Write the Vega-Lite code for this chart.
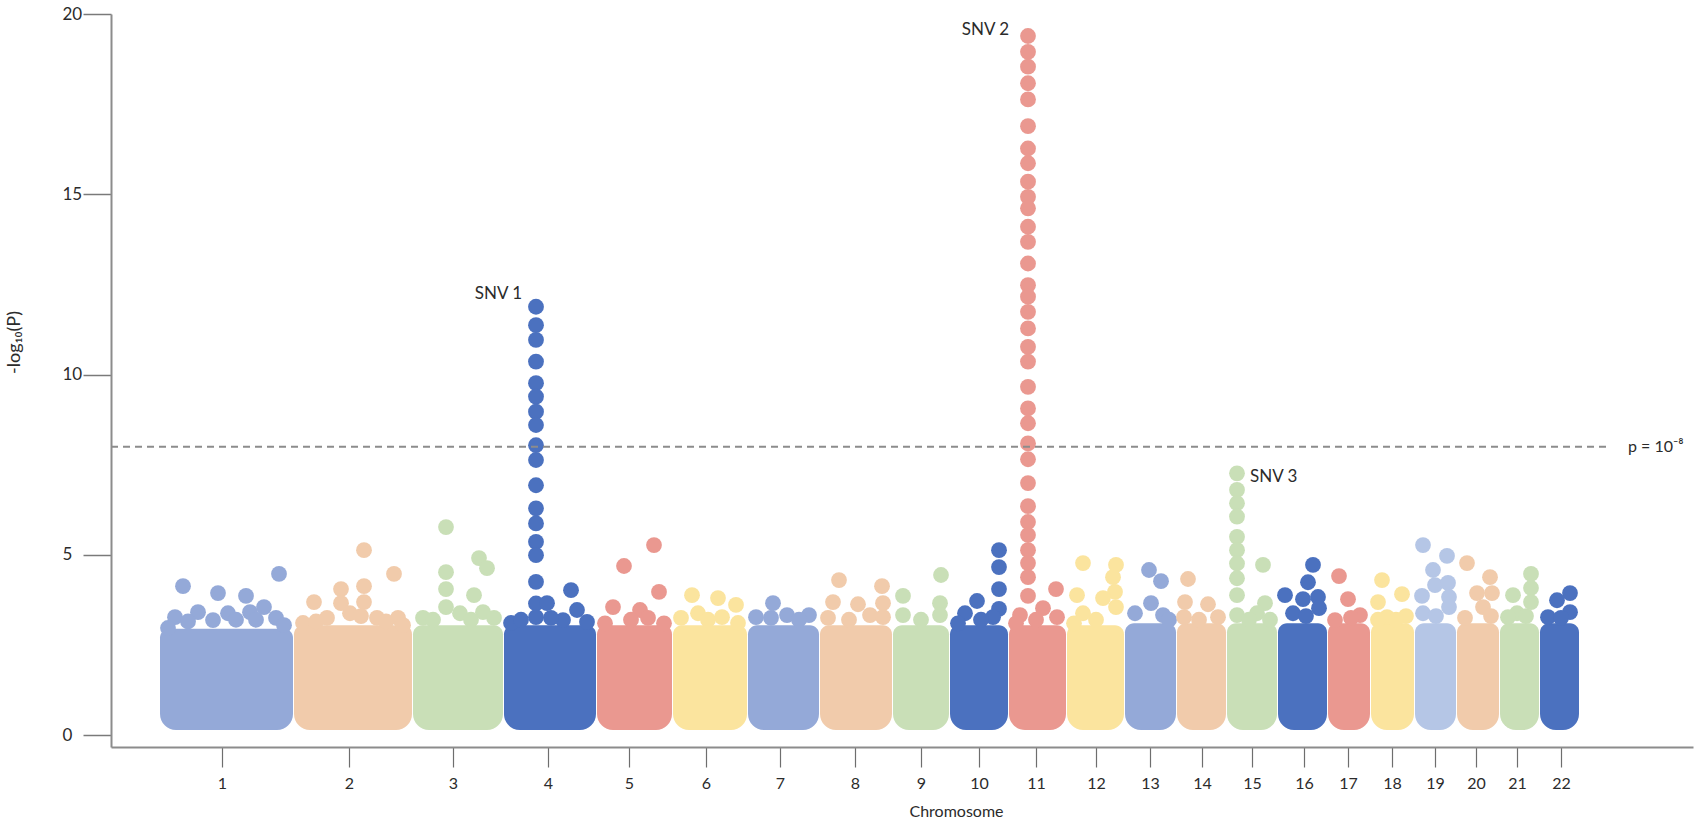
{
  "$schema": "https://vega.github.io/schema/vega-lite/v6.json",
  "description": "Manhattan plot, -log10(P) by chromosome",
  "autosize": "none",
  "width": 1582,
  "height": 733,
  "padding": {"left": 111, "top": 14, "right": 5, "bottom": 73},
  "background": "white",
  "config": {
    "view": {"stroke": null},
    "font": "Lato",
    "axis": {"grid": false, "labelFont": "Lato", "titleFont": "Lato"}
  },
  "datasets": {
    "blocks": [
      {"chr": 1, "start": 49, "end": 182, "low": 0.14, "top": 2.95},
      {"chr": 2, "start": 183, "end": 301, "low": 0.14, "top": 3.05},
      {"chr": 3, "start": 302, "end": 392, "low": 0.14, "top": 3.05},
      {"chr": 4, "start": 393, "end": 485, "low": 0.14, "top": 3.05},
      {"chr": 5, "start": 486, "end": 561, "low": 0.14, "top": 3.05},
      {"chr": 6, "start": 562, "end": 636, "low": 0.14, "top": 3.05},
      {"chr": 7, "start": 637, "end": 708, "low": 0.14, "top": 3.05},
      {"chr": 8, "start": 709, "end": 781, "low": 0.14, "top": 3.05},
      {"chr": 9, "start": 782, "end": 838, "low": 0.14, "top": 3.05},
      {"chr": 10, "start": 839, "end": 897, "low": 0.14, "top": 3.05},
      {"chr": 11, "start": 898, "end": 955, "low": 0.14, "top": 3.05},
      {"chr": 12, "start": 956, "end": 1013, "low": 0.14, "top": 3.05},
      {"chr": 13, "start": 1014, "end": 1065, "low": 0.14, "top": 3.1},
      {"chr": 14, "start": 1066, "end": 1115, "low": 0.14, "top": 3.1},
      {"chr": 15, "start": 1116, "end": 1166, "low": 0.14, "top": 3.1},
      {"chr": 16, "start": 1167, "end": 1216, "low": 0.14, "top": 3.1},
      {"chr": 17, "start": 1217, "end": 1259, "low": 0.14, "top": 3.1},
      {"chr": 18, "start": 1260, "end": 1303, "low": 0.14, "top": 3.1},
      {"chr": 19, "start": 1304, "end": 1345, "low": 0.14, "top": 3.1},
      {"chr": 20, "start": 1346, "end": 1388, "low": 0.14, "top": 3.1},
      {"chr": 21, "start": 1389, "end": 1428, "low": 0.14, "top": 3.1},
      {"chr": 22, "start": 1429, "end": 1468, "low": 0.14, "top": 3.1}
    ],
    "points": [
      {"chr": 1, "pos": 72, "logp": 4.13}, {"chr": 1, "pos": 107, "logp": 3.94},
      {"chr": 1, "pos": 135, "logp": 3.86}, {"chr": 1, "pos": 168, "logp": 4.47},
      {"chr": 1, "pos": 64, "logp": 3.27}, {"chr": 1, "pos": 87, "logp": 3.41},
      {"chr": 1, "pos": 117, "logp": 3.38}, {"chr": 1, "pos": 139, "logp": 3.41},
      {"chr": 1, "pos": 153, "logp": 3.55}, {"chr": 1, "pos": 165, "logp": 3.25},
      {"chr": 1, "pos": 102, "logp": 3.19}, {"chr": 1, "pos": 57, "logp": 2.97},
      {"chr": 1, "pos": 77, "logp": 3.15}, {"chr": 1, "pos": 125, "logp": 3.2},
      {"chr": 1, "pos": 145, "logp": 3.2}, {"chr": 1, "pos": 173, "logp": 3.05},

      {"chr": 2, "pos": 253, "logp": 5.13}, {"chr": 2, "pos": 283, "logp": 4.47},
      {"chr": 2, "pos": 253, "logp": 4.13}, {"chr": 2, "pos": 253, "logp": 3.69},
      {"chr": 2, "pos": 230, "logp": 4.05}, {"chr": 2, "pos": 230, "logp": 3.66},
      {"chr": 2, "pos": 203, "logp": 3.69}, {"chr": 2, "pos": 192, "logp": 3.11},
      {"chr": 2, "pos": 216, "logp": 3.25}, {"chr": 2, "pos": 239, "logp": 3.38},
      {"chr": 2, "pos": 266, "logp": 3.25}, {"chr": 2, "pos": 287, "logp": 3.25},
      {"chr": 2, "pos": 250, "logp": 3.3}, {"chr": 2, "pos": 292, "logp": 3.05},
      {"chr": 2, "pos": 205, "logp": 3.15}, {"chr": 2, "pos": 275, "logp": 3.15},

      {"chr": 3, "pos": 335, "logp": 5.77}, {"chr": 3, "pos": 368, "logp": 4.91},
      {"chr": 3, "pos": 376, "logp": 4.63}, {"chr": 3, "pos": 335, "logp": 4.52},
      {"chr": 3, "pos": 335, "logp": 4.05}, {"chr": 3, "pos": 363, "logp": 3.88},
      {"chr": 3, "pos": 335, "logp": 3.55}, {"chr": 3, "pos": 312, "logp": 3.25},
      {"chr": 3, "pos": 349, "logp": 3.38}, {"chr": 3, "pos": 372, "logp": 3.41},
      {"chr": 3, "pos": 383, "logp": 3.25}, {"chr": 3, "pos": 322, "logp": 3.2},
      {"chr": 3, "pos": 360, "logp": 3.2},

      {"chr": 4, "pos": 425, "logp": 11.88}, {"chr": 4, "pos": 425, "logp": 11.37},
      {"chr": 4, "pos": 425, "logp": 10.96}, {"chr": 4, "pos": 425, "logp": 10.36},
      {"chr": 4, "pos": 425, "logp": 9.76}, {"chr": 4, "pos": 425, "logp": 9.39},
      {"chr": 4, "pos": 425, "logp": 8.97}, {"chr": 4, "pos": 425, "logp": 8.6},
      {"chr": 4, "pos": 425, "logp": 8.04}, {"chr": 4, "pos": 425, "logp": 7.63},
      {"chr": 4, "pos": 425, "logp": 6.93}, {"chr": 4, "pos": 425, "logp": 6.29},
      {"chr": 4, "pos": 425, "logp": 5.87}, {"chr": 4, "pos": 425, "logp": 5.36},
      {"chr": 4, "pos": 425, "logp": 4.99}, {"chr": 4, "pos": 425, "logp": 4.25},
      {"chr": 4, "pos": 425, "logp": 3.65}, {"chr": 4, "pos": 436, "logp": 3.66},
      {"chr": 4, "pos": 460, "logp": 4.02}, {"chr": 4, "pos": 466, "logp": 3.47},
      {"chr": 4, "pos": 400, "logp": 3.11}, {"chr": 4, "pos": 452, "logp": 3.19},
      {"chr": 4, "pos": 425, "logp": 3.27}, {"chr": 4, "pos": 476, "logp": 3.14},
      {"chr": 4, "pos": 410, "logp": 3.2}, {"chr": 4, "pos": 440, "logp": 3.25},

      {"chr": 5, "pos": 513, "logp": 4.69}, {"chr": 5, "pos": 543, "logp": 5.27},
      {"chr": 5, "pos": 548, "logp": 3.97}, {"chr": 5, "pos": 502, "logp": 3.55},
      {"chr": 5, "pos": 529, "logp": 3.47}, {"chr": 5, "pos": 494, "logp": 3.1},
      {"chr": 5, "pos": 520, "logp": 3.2}, {"chr": 5, "pos": 553, "logp": 3.1},
      {"chr": 5, "pos": 537, "logp": 3.25},

      {"chr": 6, "pos": 581, "logp": 3.88}, {"chr": 6, "pos": 607, "logp": 3.8},
      {"chr": 6, "pos": 625, "logp": 3.61}, {"chr": 6, "pos": 587, "logp": 3.38},
      {"chr": 6, "pos": 611, "logp": 3.27}, {"chr": 6, "pos": 570, "logp": 3.25},
      {"chr": 6, "pos": 627, "logp": 3.11}, {"chr": 6, "pos": 597, "logp": 3.2},

      {"chr": 7, "pos": 662, "logp": 3.66}, {"chr": 7, "pos": 645, "logp": 3.27},
      {"chr": 7, "pos": 676, "logp": 3.33}, {"chr": 7, "pos": 698, "logp": 3.33},
      {"chr": 7, "pos": 660, "logp": 3.25}, {"chr": 7, "pos": 688, "logp": 3.2},

      {"chr": 8, "pos": 728, "logp": 4.3}, {"chr": 8, "pos": 771, "logp": 4.13},
      {"chr": 8, "pos": 722, "logp": 3.69}, {"chr": 8, "pos": 747, "logp": 3.63},
      {"chr": 8, "pos": 772, "logp": 3.66}, {"chr": 8, "pos": 717, "logp": 3.25},
      {"chr": 8, "pos": 759, "logp": 3.33}, {"chr": 8, "pos": 772, "logp": 3.27},
      {"chr": 8, "pos": 738, "logp": 3.2},

      {"chr": 9, "pos": 830, "logp": 4.44}, {"chr": 9, "pos": 792, "logp": 3.86},
      {"chr": 9, "pos": 829, "logp": 3.66}, {"chr": 9, "pos": 792, "logp": 3.33},
      {"chr": 9, "pos": 829, "logp": 3.33}, {"chr": 9, "pos": 810, "logp": 3.2},

      {"chr": 10, "pos": 888, "logp": 5.13}, {"chr": 10, "pos": 888, "logp": 4.66},
      {"chr": 10, "pos": 888, "logp": 4.05}, {"chr": 10, "pos": 866, "logp": 3.72},
      {"chr": 10, "pos": 888, "logp": 3.5}, {"chr": 10, "pos": 854, "logp": 3.38},
      {"chr": 10, "pos": 882, "logp": 3.27}, {"chr": 10, "pos": 847, "logp": 3.1},
      {"chr": 10, "pos": 870, "logp": 3.2},

      {"chr": 11, "pos": 917, "logp": 19.39}, {"chr": 11, "pos": 917, "logp": 18.95},
      {"chr": 11, "pos": 917, "logp": 18.54}, {"chr": 11, "pos": 917, "logp": 18.08},
      {"chr": 11, "pos": 917, "logp": 17.63}, {"chr": 11, "pos": 917, "logp": 16.89},
      {"chr": 11, "pos": 917, "logp": 16.27}, {"chr": 11, "pos": 917, "logp": 15.86},
      {"chr": 11, "pos": 917, "logp": 15.35}, {"chr": 11, "pos": 917, "logp": 14.93},
      {"chr": 11, "pos": 917, "logp": 14.61}, {"chr": 11, "pos": 917, "logp": 14.1},
      {"chr": 11, "pos": 917, "logp": 13.68}, {"chr": 11, "pos": 917, "logp": 13.08},
      {"chr": 11, "pos": 917, "logp": 12.48}, {"chr": 11, "pos": 917, "logp": 12.16},
      {"chr": 11, "pos": 917, "logp": 11.74}, {"chr": 11, "pos": 917, "logp": 11.28},
      {"chr": 11, "pos": 917, "logp": 10.77}, {"chr": 11, "pos": 917, "logp": 10.36},
      {"chr": 11, "pos": 917, "logp": 9.66}, {"chr": 11, "pos": 917, "logp": 9.06},
      {"chr": 11, "pos": 917, "logp": 8.65}, {"chr": 11, "pos": 917, "logp": 8.09},
      {"chr": 11, "pos": 917, "logp": 7.65}, {"chr": 11, "pos": 917, "logp": 6.99},
      {"chr": 11, "pos": 917, "logp": 6.35}, {"chr": 11, "pos": 917, "logp": 5.91},
      {"chr": 11, "pos": 917, "logp": 5.55}, {"chr": 11, "pos": 917, "logp": 5.13},
      {"chr": 11, "pos": 917, "logp": 4.77}, {"chr": 11, "pos": 917, "logp": 4.38},
      {"chr": 11, "pos": 917, "logp": 3.86}, {"chr": 11, "pos": 945, "logp": 4.05},
      {"chr": 11, "pos": 932, "logp": 3.52}, {"chr": 11, "pos": 909, "logp": 3.33},
      {"chr": 11, "pos": 946, "logp": 3.27}, {"chr": 11, "pos": 925, "logp": 3.2},
      {"chr": 11, "pos": 905, "logp": 3.1},

      {"chr": 12, "pos": 972, "logp": 4.77}, {"chr": 12, "pos": 1005, "logp": 4.72},
      {"chr": 12, "pos": 1002, "logp": 4.38}, {"chr": 12, "pos": 966, "logp": 3.88},
      {"chr": 12, "pos": 1004, "logp": 3.97}, {"chr": 12, "pos": 992, "logp": 3.8},
      {"chr": 12, "pos": 1005, "logp": 3.55}, {"chr": 12, "pos": 972, "logp": 3.38},
      {"chr": 12, "pos": 985, "logp": 3.2}, {"chr": 12, "pos": 963, "logp": 3.1},

      {"chr": 13, "pos": 1038, "logp": 4.58}, {"chr": 13, "pos": 1050, "logp": 4.27},
      {"chr": 13, "pos": 1040, "logp": 3.66}, {"chr": 13, "pos": 1052, "logp": 3.33},
      {"chr": 13, "pos": 1024, "logp": 3.38}, {"chr": 13, "pos": 1058, "logp": 3.2},

      {"chr": 14, "pos": 1077, "logp": 4.33}, {"chr": 14, "pos": 1074, "logp": 3.69},
      {"chr": 14, "pos": 1097, "logp": 3.63}, {"chr": 14, "pos": 1107, "logp": 3.27},
      {"chr": 14, "pos": 1073, "logp": 3.27}, {"chr": 14, "pos": 1088, "logp": 3.2},

      {"chr": 15, "pos": 1126, "logp": 7.26}, {"chr": 15, "pos": 1126, "logp": 6.8},
      {"chr": 15, "pos": 1126, "logp": 6.43}, {"chr": 15, "pos": 1126, "logp": 6.06},
      {"chr": 15, "pos": 1126, "logp": 5.5}, {"chr": 15, "pos": 1126, "logp": 5.13},
      {"chr": 15, "pos": 1126, "logp": 4.76}, {"chr": 15, "pos": 1126, "logp": 4.35},
      {"chr": 15, "pos": 1126, "logp": 3.88}, {"chr": 15, "pos": 1126, "logp": 3.33},
      {"chr": 15, "pos": 1152, "logp": 4.72}, {"chr": 15, "pos": 1154, "logp": 3.66},
      {"chr": 15, "pos": 1146, "logp": 3.38}, {"chr": 15, "pos": 1138, "logp": 3.2},
      {"chr": 15, "pos": 1159, "logp": 3.2},

      {"chr": 16, "pos": 1202, "logp": 4.72}, {"chr": 16, "pos": 1197, "logp": 4.24},
      {"chr": 16, "pos": 1174, "logp": 3.88}, {"chr": 16, "pos": 1192, "logp": 3.77},
      {"chr": 16, "pos": 1207, "logp": 3.83}, {"chr": 16, "pos": 1182, "logp": 3.38},
      {"chr": 16, "pos": 1208, "logp": 3.52}, {"chr": 16, "pos": 1195, "logp": 3.3},

      {"chr": 17, "pos": 1228, "logp": 4.41}, {"chr": 17, "pos": 1237, "logp": 3.77},
      {"chr": 17, "pos": 1249, "logp": 3.33}, {"chr": 17, "pos": 1224, "logp": 3.19},
      {"chr": 17, "pos": 1240, "logp": 3.25},

      {"chr": 18, "pos": 1271, "logp": 4.3}, {"chr": 18, "pos": 1291, "logp": 3.91},
      {"chr": 18, "pos": 1267, "logp": 3.69}, {"chr": 18, "pos": 1295, "logp": 3.3},
      {"chr": 18, "pos": 1276, "logp": 3.27}, {"chr": 18, "pos": 1267, "logp": 3.2},
      {"chr": 18, "pos": 1285, "logp": 3.2},

      {"chr": 19, "pos": 1312, "logp": 5.27}, {"chr": 19, "pos": 1336, "logp": 4.97},
      {"chr": 19, "pos": 1322, "logp": 4.58}, {"chr": 19, "pos": 1324, "logp": 4.16},
      {"chr": 19, "pos": 1337, "logp": 4.22}, {"chr": 19, "pos": 1311, "logp": 3.86},
      {"chr": 19, "pos": 1338, "logp": 3.83}, {"chr": 19, "pos": 1338, "logp": 3.55},
      {"chr": 19, "pos": 1312, "logp": 3.38}, {"chr": 19, "pos": 1325, "logp": 3.3},

      {"chr": 20, "pos": 1356, "logp": 4.77}, {"chr": 20, "pos": 1379, "logp": 4.38},
      {"chr": 20, "pos": 1366, "logp": 3.94}, {"chr": 20, "pos": 1381, "logp": 3.94},
      {"chr": 20, "pos": 1372, "logp": 3.55}, {"chr": 20, "pos": 1354, "logp": 3.25},
      {"chr": 20, "pos": 1380, "logp": 3.3},

      {"chr": 21, "pos": 1420, "logp": 4.47}, {"chr": 21, "pos": 1420, "logp": 4.08},
      {"chr": 21, "pos": 1402, "logp": 3.88}, {"chr": 21, "pos": 1420, "logp": 3.69},
      {"chr": 21, "pos": 1406, "logp": 3.38}, {"chr": 21, "pos": 1397, "logp": 3.27},
      {"chr": 21, "pos": 1415, "logp": 3.3},

      {"chr": 22, "pos": 1459, "logp": 3.94}, {"chr": 22, "pos": 1446, "logp": 3.74},
      {"chr": 22, "pos": 1459, "logp": 3.41}, {"chr": 22, "pos": 1437, "logp": 3.27},
      {"chr": 22, "pos": 1450, "logp": 3.25}
    ],
    "threshold": [
      {"logp": 8, "from": 0, "to": 1500, "label": "p = 10⁻⁸"}
    ],
    "peaks": [
      {"label": "SNV 1", "pos": 411, "logp": 12.23},
      {"label": "SNV 2", "pos": 898, "logp": 19.56}
    ],
    "peaksRight": [
      {"label": "SNV 3", "pos": 1139, "logp": 7.16}
    ]
  },
  "encoding": {
    "x": {
      "type": "quantitative",
      "scale": {"domain": [0, 1582], "nice": false, "zero": false},
      "axis": {
        "values": [111, 238, 342, 437, 518, 595, 669, 744, 810, 868, 925, 985, 1039, 1091, 1141, 1193, 1237, 1281, 1324, 1365, 1406, 1450],
        "labelExpr": "indexof([111, 238, 342, 437, 518, 595, 669, 744, 810, 868, 925, 985, 1039, 1091, 1141, 1193, 1237, 1281, 1324, 1365, 1406, 1450], datum.value) + 1",
        "domainColor": "#8c8c8c",
        "domainWidth": 2,
        "tickColor": "#6e6e6e",
        "tickWidth": 1.2,
        "tickSize": 20,
        "labelPadding": 8,
        "labelFontSize": 16,
        "labelColor": "#2b2b2b",
        "title": "Chromosome",
        "titleFontSize": 16,
        "titleFontWeight": "normal",
        "titleColor": "#2b2b2b",
        "titleX": 845,
        "titleY": 69,
        "titleBaseline": "alphabetic"
      }
    },
    "y": {
      "type": "quantitative",
      "scale": {"domain": [-0.33, 20], "nice": false, "zero": false},
      "axis": {
        "values": [0, 5, 10, 15, 20],
        "domainColor": "#8c8c8c",
        "domainWidth": 2,
        "tickColor": "#7a7a7a",
        "tickWidth": 1.5,
        "tickSize": 28,
        "labelAlign": "left",
        "labelPadding": 21,
        "labelFontSize": 17,
        "labelColor": "#2b2b2b",
        "title": "-log₁₀(P)",
        "titleFontSize": 18,
        "titleFontWeight": "normal",
        "titleColor": "#2b2b2b",
        "titleX": -97,
        "titleY": 328,
        "titleBaseline": "middle"
      }
    }
  },
  "layer": [
    {
      "data": {"name": "blocks"},
      "mark": {
        "type": "rect",
        "cornerRadiusTopLeft": 9,
        "cornerRadiusTopRight": 9,
        "cornerRadiusBottomLeft": 16,
        "cornerRadiusBottomRight": 16
      },
      "encoding": {
        "x": {"field": "start", "type": "quantitative"},
        "x2": {"field": "end"},
        "y": {"field": "low", "type": "quantitative"},
        "y2": {"field": "top"},
        "color": {
          "field": "chr",
          "type": "ordinal",
          "legend": null,
          "scale": {
            "domain": [1, 2, 3, 4, 5, 6, 7, 8, 9, 10, 11, 12, 13, 14, 15, 16, 17, 18, 19, 20, 21, 22],
            "range": ["#94a9d8", "#f1cbab", "#c9dfb7", "#4b71bf", "#ea9890", "#fbe49e", "#94a9d8", "#f1cbab", "#c9dfb7", "#4b71bf", "#ea9890", "#fbe49e", "#94a9d8", "#f1cbab", "#c9dfb7", "#4b71bf", "#ea9890", "#fbe49e", "#b5c6e6", "#f1cbab", "#c9dfb7", "#4b71bf"]
          }
        }
      }
    },
    {
      "data": {"name": "points"},
      "mark": {"type": "circle", "size": 250, "opacity": 1},
      "encoding": {
        "x": {"field": "pos", "type": "quantitative"},
        "y": {"field": "logp", "type": "quantitative"},
        "color": {"field": "chr", "type": "ordinal", "legend": null}
      }
    },
    {
      "data": {"name": "threshold"},
      "mark": {"type": "rule", "color": "#8c8c8c", "strokeWidth": 2, "strokeDash": [7, 5]},
      "encoding": {
        "x": {"field": "from", "type": "quantitative"},
        "x2": {"field": "to"},
        "y": {"field": "logp", "type": "quantitative"}
      }
    },
    {
      "data": {"name": "threshold"},
      "mark": {"type": "text", "align": "left", "baseline": "middle", "fontSize": 16, "color": "#2b2b2b", "dx": 17},
      "encoding": {
        "x": {"field": "to", "type": "quantitative"},
        "y": {"field": "logp", "type": "quantitative"},
        "text": {"field": "label"}
      }
    },
    {
      "data": {"name": "peaks"},
      "mark": {"type": "text", "align": "right", "baseline": "middle", "fontSize": 17, "color": "#2b2b2b"},
      "encoding": {
        "x": {"field": "pos", "type": "quantitative"},
        "y": {"field": "logp", "type": "quantitative"},
        "text": {"field": "label"}
      }
    },
    {
      "data": {"name": "peaksRight"},
      "mark": {"type": "text", "align": "left", "baseline": "middle", "fontSize": 17, "color": "#2b2b2b"},
      "encoding": {
        "x": {"field": "pos", "type": "quantitative"},
        "y": {"field": "logp", "type": "quantitative"},
        "text": {"field": "label"}
      }
    }
  ]
}
